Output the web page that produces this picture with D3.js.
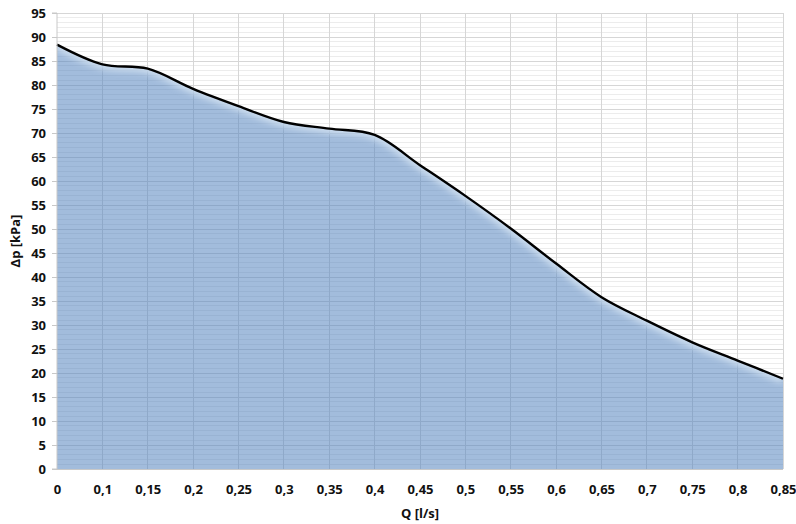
<!DOCTYPE html>
<html><head><meta charset="utf-8">
<script src="https://cdn.jsdelivr.net/npm/d3@7"></script>
<style>body{margin:0;background:#fff}svg{display:block}</style>
</head><body>
<svg id="c" width="796" height="524"></svg>
<script>
const categories = [0, 0.1, 0.15, 0.2, 0.25, 0.3, 0.35, 0.4, 0.45, 0.5, 0.55, 0.6, 0.65, 0.7, 0.75, 0.8, 0.85];
const dp = [88.4, 84.3, 83.4, 79.2, 75.6, 72.3, 70.9, 69.6, 63.3, 56.9, 50.1, 42.8, 35.8, 30.9, 26.4, 22.6, 18.8];
const yTicks = d3.range(0, 96, 5);
const xTitle = "Q [l/s]";
const yTitle = "Δp [kPa]";

const svg = d3.select("#c");
const m = {l:57, r:13, t:13, b:55};
const W = 796, H = 524;
const x = d3.scalePoint().domain(categories.map(String)).range([m.l, W - m.r]);
const y = d3.scaleLinear().domain([0, 95]).range([H - m.b, m.t]);
const font = "'Open Sans', 'DejaVu Sans', sans-serif";

const defs = svg.append("defs");
defs.append("filter").attr("id","blur").attr("x","-10%").attr("y","-10%").attr("width","120%").attr("height","120%")
  .append("feGaussianBlur").attr("stdDeviation", 3);

// minor gridlines
svg.append("g").selectAll("line").data(d3.range(0, 96, 1).filter(v => v % 5 !== 0)).join("line")
  .attr("x1", m.l).attr("x2", W - m.r).attr("y1", d => y(d)).attr("y2", d => y(d))
  .attr("stroke", "#ececec").attr("stroke-width", 1).attr("shape-rendering","crispEdges");
// major gridlines
svg.append("g").selectAll("line").data(yTicks.slice(1)).join("line")
  .attr("x1", m.l).attr("x2", W - m.r).attr("y1", d => y(d)).attr("y2", d => y(d))
  .attr("stroke", "#d6d6d6").attr("stroke-width", 1).attr("shape-rendering","crispEdges");
svg.append("g").selectAll("line").data(categories.slice(1).map(String)).join("line")
  .attr("x1", d => x(d)).attr("x2", d => x(d)).attr("y1", y(0)).attr("y2", y(95))
  .attr("stroke", "#d6d6d6").attr("stroke-width", 1).attr("shape-rendering","crispEdges");

const pts = categories.map((c, i) => [x(String(c)), y(dp[i])]);
const curve = d3.curveCatmullRom.alpha(0.5);
const area = d3.area().x(d => d[0]).y0(y(0)).y1(d => d[1]).curve(curve);
const line = d3.line().x(d => d[0]).y(d => d[1]).curve(curve);

defs.append("clipPath").attr("id","ac").append("path").attr("d", area(pts));

svg.append("path").attr("d", area(pts)).attr("fill", "#4f81bd").attr("fill-opacity", 0.53);
// soft glow along top edge
svg.append("g").attr("clip-path","url(#ac)").append("path").attr("d", line(pts))
  .attr("fill","none").attr("stroke","#dbe8f5").attr("stroke-opacity",0.8).attr("stroke-width",9).attr("filter","url(#blur)");
svg.append("path").attr("d", line(pts)).attr("fill","none").attr("stroke","#000").attr("stroke-width",2.4).attr("stroke-linejoin","round");

// axes
const yAxis = svg.append("g").attr("transform", `translate(${m.l},0)`)
  .call(d3.axisLeft(y).tickValues(yTicks).tickSize(5).tickPadding(6).tickFormat(d3.format("d")));
yAxis.select(".domain").attr("stroke", "#c8c8c8").attr("d", `M-5,${y(0)}H0V${y(95)}H-5`);
yAxis.selectAll(".tick line").attr("stroke", "#c8c8c8");
yAxis.selectAll("text").attr("font-family", font).attr("font-weight", "bold").attr("font-size", 13).attr("fill","#111");

const xAxis = svg.append("g").attr("transform", `translate(0,${y(0)})`)
  .call(d3.axisBottom(x).tickSize(0).tickPadding(16).tickFormat(d => String(d).replace(".", ",")));
xAxis.select(".domain").attr("stroke", "#c8c8c8").attr("d", `M${m.l},0.5H${W - m.r}`);
xAxis.selectAll("text").attr("font-family", font).attr("font-weight", "bold").attr("font-size", 13).attr("fill","#111");

svg.append("text").attr("x", (m.l + W - m.r)/2).attr("y", 518).attr("text-anchor","middle")
  .attr("font-family", font).attr("font-weight","bold").attr("font-size",13).attr("fill","#111").text(xTitle);
svg.append("text").attr("transform", `translate(20,${(y(0)+y(95))/2}) rotate(-90)`).attr("text-anchor","middle")
  .attr("font-family", font).attr("font-weight","bold").attr("font-size",13).attr("fill","#111").text(yTitle);
</script>
</body></html>
